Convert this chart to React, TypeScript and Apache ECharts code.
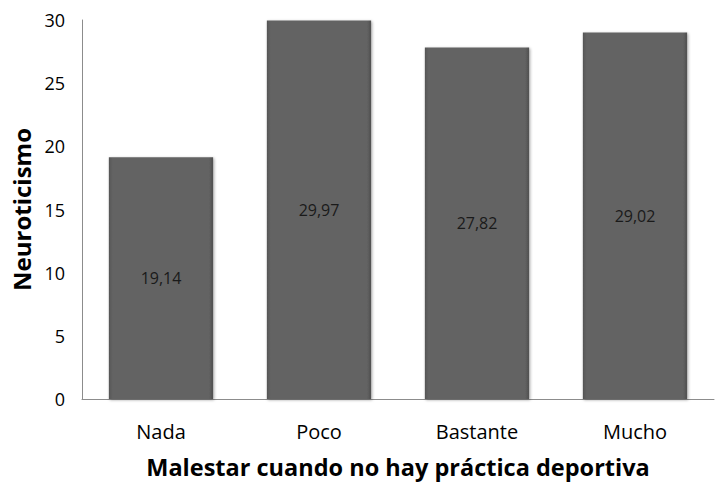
import React, { useEffect, useRef } from "react";
import * as echarts from "echarts";

const categories = ["Nada", "Poco", "Bastante", "Mucho"];
const values = [19.14, 29.97, 27.82, 29.02];
const yTicks = { min: 0, max: 30, interval: 5 };
const xTitle = "Malestar cuando no hay práctica deportiva";
const yTitle = "Neuroticismo";

const FONT = "'Open Sans', 'Noto Sans', sans-serif";

export default function App() {
  const ref = useRef<HTMLDivElement>(null);
  useEffect(() => {
    if (!ref.current) return;
    const chart = echarts.init(ref.current, undefined, { renderer: "svg" });
    chart.setOption({
      animation: false,
      backgroundColor: "#ffffff",
      grid: { left: 82, right: 1, top: 20, bottom: 84, containLabel: false },
      xAxis: {
        type: "category",
        data: categories,
        name: xTitle,
        nameLocation: "middle",
        nameGap: 56,
        nameTextStyle: { fontFamily: FONT, fontSize: 23.5, fontWeight: "bold", color: "#000" },
        axisLine: { show: true, lineStyle: { color: "#8c8c8c", width: 1 } },
        axisTick: { show: false },
        axisLabel: { fontFamily: FONT, fontSize: 20, color: "#000", margin: 22 },
      },
      yAxis: {
        type: "value",
        min: yTicks.min,
        max: yTicks.max,
        interval: yTicks.interval,
        name: yTitle,
        nameLocation: "middle",
        nameGap: 49,
        nameTextStyle: { fontFamily: FONT, fontSize: 24, fontWeight: "bold", color: "#000" },
        axisLine: { show: true, lineStyle: { color: "#8c8c8c", width: 1 } },
        axisTick: { show: false },
        splitLine: { show: false },
        axisLabel: { fontFamily: FONT, fontSize: 18, color: "#000", margin: 17 },
      },
      series: [
        {
          type: "bar",
          data: values,
          barWidth: "66%",
          itemStyle: {
            color: new echarts.graphic.LinearGradient(0, 0, 1, 0, [
              { offset: 0, color: "#555555" },
              { offset: 0.04, color: "#646464" },
              { offset: 0.96, color: "#646464" },
              { offset: 1, color: "#4f4f4f" },
            ]),
            borderWidth: 0,
            shadowColor: "rgba(0,0,0,0.35)",
            shadowBlur: 3,
            shadowOffsetX: 1,
            shadowOffsetY: 1,
          },
          label: {
            show: true,
            position: "inside",
            fontFamily: FONT,
            fontSize: 16,
            color: "#1a1a1a",
            formatter: (p: any) => p.value.toFixed(2).replace(".", ","),
          },
        },
      ],
    });
    return () => chart.dispose();
  }, []);
  return <div ref={ref} style={{ width: 715, height: 484, position: "absolute", left: 0, top: 0 }} />;
}
